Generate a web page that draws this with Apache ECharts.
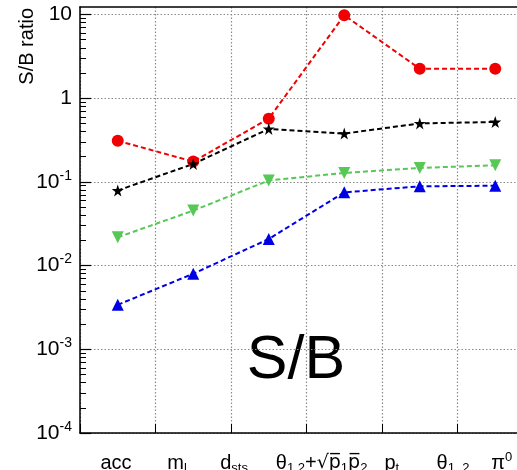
<!DOCTYPE html>
<html><head><meta charset="utf-8">
<script src="https://cdn.jsdelivr.net/npm/echarts@6/dist/echarts.min.js"></script>
<style>html,body{margin:0;padding:0;background:#fff}#c{width:517px;height:470px}</style>
</head><body><div id="c"></div>
<script>
// ---- data ----
const categories = ['acc', 'm_l', 'd_sts', 'theta12+sqrt(p1p2)', 'p_t', 'theta_1,2'];
const redValues   = [0.31, 0.175, 0.57, 9.8, 2.25, 2.25];
const blackValues = [0.079, 0.164, 0.43, 0.378, 0.50, 0.52];
const greenValues = [0.0218, 0.0454, 0.104, 0.128, 0.147, 0.158];
const blueValues  = [0.0034, 0.0080, 0.0208, 0.075, 0.0886, 0.090];
// x tick labels (7 text labels under the axis) and where they sit, in category-band units
const xTickLabels = ['{b|acc}', '{b|m}{s|l}', '{b|d}{s|sts}',
  '{b|θ}{s|1,2}{b|+}{o|√p\u0305}{s|1}{o|p\u0305}{s|2}', '{b|p}{s|t}', '{b|θ}{s|1, 2}', '{b|π}{p|0}'];
const xTickPos = [0.477, 1.285, 2.04, 3.2, 4.13, 4.94, 5.585];
// y tick labels
const yTickValues = [1e-4, 1e-3, 1e-2, 1e-1, 1, 10];
const yTickLabels = ['{b|10}{p|-4}', '{b|10}{p|-3}', '{b|10}{p|-2}', '{b|10}{p|-1}', '{b|1}', '{b|10}'];
const yMin = 1e-4, yMax = 12.3;

const minorVals = [];
for (let k = -4; k <= 0; k++) for (let m = 2; m <= 9; m++) minorVals.push(m * Math.pow(10, k));

const FONT = "'Liberation Sans', Arial, Helvetica, sans-serif";
const starPath = 'path://M50,0 L61.8,35.1 L98.8,35.1 L68.8,56.8 L80.3,91.9 L50,70.1 L19.7,91.9 L31.2,56.8 L1.2,35.1 L38.2,35.1 Z';
function gridLine() { return { show: true, interval: 0, lineStyle: { color: '#8a8a8a', type: [1.5, 2], width: 1.2 } }; }

function nearestIdx(arr, v) {
  let best = 0;
  for (let i = 1; i < arr.length; i++) if (Math.abs(arr[i] - v) < Math.abs(arr[best] - v)) best = i;
  return best;
}

function lineSeries(name, data, color, symbol, size, extra) {
  return Object.assign({
    name, type: 'line', data, symbol, symbolSize: size, z: 5,
    itemStyle: { color, opacity: 1 },
    lineStyle: { color, width: 2, type: [5, 3] },
    emphasis: { disabled: true }, animation: false
  }, extra || {});
}

const chart = echarts.init(document.getElementById('c'), null, { renderer: 'canvas' });
chart.setOption({
  animation: false,
  backgroundColor: '#fff',
  grid: { left: 80, top: 7, right: -16, bottom: 37, containLabel: false, outerBoundsMode: 'none' },
  xAxis: [{
    type: 'category', data: categories, boundaryGap: true,
    axisLine: { lineStyle: { color: '#000', width: 1.5 } },
    axisTick: { show: true, interval: 0, inside: true, length: 9, lineStyle: { color: '#000', width: 1 } },
    axisLabel: { show: false, interval: 0 },
    splitLine: gridLine()
  }, {
    type: 'value', min: 0, max: 6, position: 'bottom',
    axisLine: { show: false }, axisTick: { show: false }, splitLine: { show: false },
    axisLabel: {
      show: true, customValues: xTickPos, margin: 18,
      formatter: v => xTickLabels[nearestIdx(xTickPos, v)],
      rich: {
        b: { fontFamily: FONT, fontSize: 20, color: '#000', lineHeight: 24 },
        o: { fontFamily: "'DejaVu Sans', sans-serif", fontSize: 19, color: '#000', lineHeight: 24 },
        s: { fontFamily: FONT, fontSize: 13, color: '#000', lineHeight: 13, verticalAlign: 'bottom' },
        p: { fontFamily: FONT, fontSize: 13, color: '#000', lineHeight: 13, verticalAlign: 'top' }
      }
    }
  }, {
    type: 'value', min: 0, max: 6, position: 'top',
    axisLine: { show: true, lineStyle: { color: '#000', width: 1.5 } },
    axisTick: { show: false }, axisLabel: { show: false }, splitLine: { show: false }
  }],
  yAxis: [{
    type: 'log', logBase: 10, min: yMin, max: yMax,
    axisLine: { show: true, lineStyle: { color: '#000', width: 1.5 } },
    axisTick: { show: true, inside: true, length: 11, customValues: yTickValues, lineStyle: { color: '#000', width: 1.2 } },
    axisLabel: {
      show: true, margin: 8, customValues: yTickValues,
      formatter: v => yTickLabels[nearestIdx(yTickValues.map(Math.log10), Math.log10(v))],
      rich: {
        b: { fontFamily: FONT, fontSize: 21, color: '#000', lineHeight: 26 },
        p: { fontFamily: FONT, fontSize: 14, color: '#000', lineHeight: 14, verticalAlign: 'top' }
      }
    },
    splitLine: gridLine()
  }, {
    type: 'log', logBase: 10, min: yMin, max: yMax, position: 'left',
    axisLine: { show: false },
    axisTick: { show: true, inside: true, length: 6, customValues: minorVals, lineStyle: { color: '#000', width: 1 } },
    axisLabel: { show: false }, splitLine: { show: false }
  }],
  series: [
    lineSeries('red', redValues, '#f00000', 'circle', 12),
    lineSeries('black', blackValues, '#000000', starPath, 12),
    lineSeries('green', greenValues, '#55c855', 'triangle', 12, { symbolRotate: 180 }),
    lineSeries('blue', blueValues, '#0000e6', 'triangle', 12)
  ],
  graphic: [{
    type: 'text', x: 27, y: 8, rotation: Math.PI / 2,
    style: { text: 'S/B ratio', fontFamily: FONT, fontSize: 20, fill: '#000', align: 'right', verticalAlign: 'middle' }
  }, {
    type: 'text', x: 296, y: 361,
    style: { text: 'S/B', fontFamily: FONT, fontSize: 61, fill: '#000', align: 'center', verticalAlign: 'middle' }
  }]
});
</script></body></html>
